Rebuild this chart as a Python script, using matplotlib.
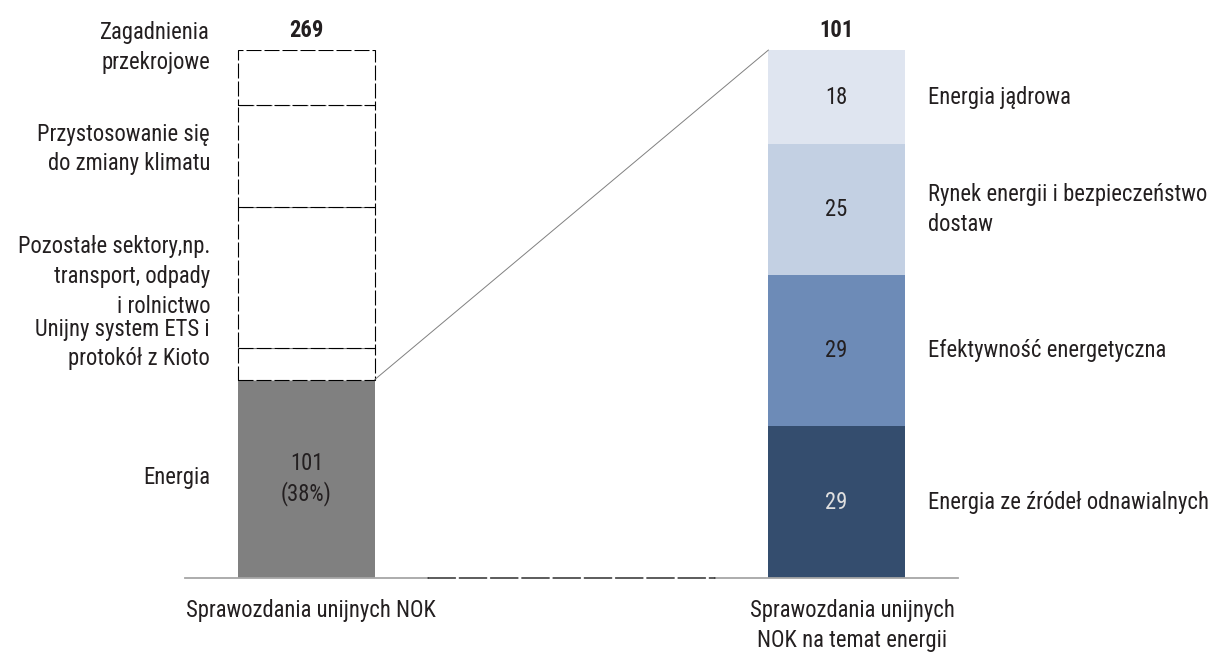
import matplotlib
matplotlib.use("Agg")
import matplotlib.pyplot as plt
from matplotlib import font_manager as fm
from matplotlib.patches import ConnectionPatch
from matplotlib.transforms import blended_transform_factory, ScaledTranslation

# Prefer a narrow sans face for the labels
def pick_font():
    narrow = []
    for f in fm.fontManager.ttflist:
        st = str(f.stretch).lower()
        if ("narrow" in f.name.lower() or "condensed" in f.name.lower()
                or st in ("condensed", "semi-condensed", "extra-condensed")
                or (isinstance(f.stretch, int) and f.stretch < 500)):
            if f.weight in (400, "normal", "regular") and f.style == "normal":
                narrow.append(f)
    for pref in ("Liberation Sans Narrow", "Roboto Condensed", "Open Sans Condensed",
                 "Noto Sans", "Open Sans", "DejaVu Sans", "Roboto"):
        for f in narrow:
            if f.name.startswith(pref.split()[0]) and (pref in f.name or f.name == pref):
                return f.name, f.stretch
    if narrow:
        return narrow[0].name, narrow[0].stretch
    return "Roboto", "normal"

fam, stretch = pick_font()
plt.rcParams['font.family'] = [fam, 'DejaVu Sans']
plt.rcParams['font.stretch'] = stretch

# All reports, split by topic
all_topics = ["Energia", "Unijny system ETS i\nprotokół z Kioto",
              "Pozostałe sektory,np.\ntransport, odpady\ni rolnictwo",
              "Przystosowanie się\ndo zmiany klimatu", "Zagadnienia\nprzekrojowe"]
all_counts = [101, 16, 72, 52, 28]
all_total = 269
energy_share = "38%"

# Energy reports, split by sub-topic
energy_topics = ["Energia ze źródeł odnawialnych", "Efektywność energetyczna",
                 "Rynek energii i bezpieczeństwo\ndostaw", "Energia jądrowa"]
energy_counts = [29, 29, 25, 18]
energy_total = 101

bar_labels = ["Sprawozdania unijnych NOK",
              "Sprawozdania unijnych\nNOK na temat energii"]

# layout
left_label_shift = [1, 20, 1, 7, 30]   # px, vertical nudge of left-hand labels
energy_colors = ["#344d6e", "#6d8bb7", "#c3d0e3", "#dfe5f0"]
energy_text_colors = ["#e0e0e0", "#231f20", "#231f20", "#231f20"]
TXT = "#231f20"
BW = 1.12
LS = 1.38

fig = plt.figure(figsize=(12.15, 6.54), dpi=100)
W, H = 1215, 654

# size the text so the category caption spans ~250 px
renderer = fig.canvas.get_renderer()
probe = fig.text(0, 0, bar_labels[0], fontsize=10)
pw = probe.get_window_extent(renderer).width
probe.remove()
FS = min(17.5, 10 * 250 / pw)

bottom = (H - 578) / H
height = (578 - 50) / H
ax1 = fig.add_axes([185 / W, bottom, 243 / W, height])
ax2 = fig.add_axes([715 / W, bottom, 243 / W, height])

for ax, top in ((ax1, all_total), (ax2, energy_total)):
    ax.set_xlim(-1, 1)
    ax.set_ylim(0, top)
    for s in ("top", "left", "right"):
        ax.spines[s].set_visible(False)
    ax.spines["bottom"].set_color("#a6a6a6")
    ax.spines["bottom"].set_linewidth(1.3)
    ax.set_yticks([])
    ax.set_xticks([])

# Left stacked bar
base = 0
for i, (lab, v) in enumerate(zip(all_topics, all_counts)):
    if i == 0:
        ax1.bar(0, v, BW, bottom=base, color="#808080", edgecolor="none", zorder=2)
        ax1.text(0, base + v / 2, f"{v}\n({energy_share})", ha="center", va="center",
                 fontsize=FS, color=TXT, linespacing=1.3)
    else:
        ax1.bar(0, v, BW, bottom=base, facecolor="white", edgecolor="black",
                linewidth=0.8, linestyle=(0, (13.5, 2.7)), zorder=2)
    tr = ax1.get_yaxis_transform() + ScaledTranslation(0, left_label_shift[i] / 100,
                                                       fig.dpi_scale_trans)
    ax1.text(-0.794, base + v / 2, lab, ha="right", va="center", fontsize=FS,
             color=TXT, linespacing=LS, transform=blended_transform_factory(
                 ax1.transData, tr))
    base += v

# Right stacked bar
base = 0
for lab, v, c, tc in zip(energy_topics, energy_counts, energy_colors, energy_text_colors):
    ax2.bar(0, v, BW, bottom=base, color=c, edgecolor="none", zorder=2)
    ax2.text(0, base + v / 2, str(v), ha="center", va="center", fontsize=FS, color=tc)
    ax2.text(0.753, base + v / 2, lab, ha="left", va="center", fontsize=FS, color=TXT,
             linespacing=LS, clip_on=False)
    base += v

# Totals above bars
for ax, tot in ((ax1, all_total), (ax2, energy_total)):
    ax.annotate(str(tot), (0, tot), xytext=(0, 6), textcoords="offset points",
                ha="center", va="bottom", fontsize=FS, fontweight="bold", color=TXT)

# Category labels below
ax1.text(0.52, -0.04, bar_labels[0], transform=ax1.transAxes, ha="center", va="top",
         fontsize=FS, color=TXT)
ax2.text(0.564, -0.04, bar_labels[1], transform=ax2.transAxes, ha="center", va="top",
         fontsize=FS, color=TXT, linespacing=LS)

# Zoom lines linking the energy segment to the breakdown bar
fig.add_artist(ConnectionPatch((BW / 2, all_counts[0]), (-BW / 2, energy_total),
                               coordsA=ax1.transData, coordsB=ax2.transData,
                               color="#808080", linewidth=0.7))
fig.add_artist(ConnectionPatch((1, 0), (0, 0), coordsA=ax1.transAxes,
                               coordsB=ax2.transAxes, color="black", linewidth=0.9,
                               linestyle=(0, (22, 3))))

fig.savefig("out.png", dpi=100)
